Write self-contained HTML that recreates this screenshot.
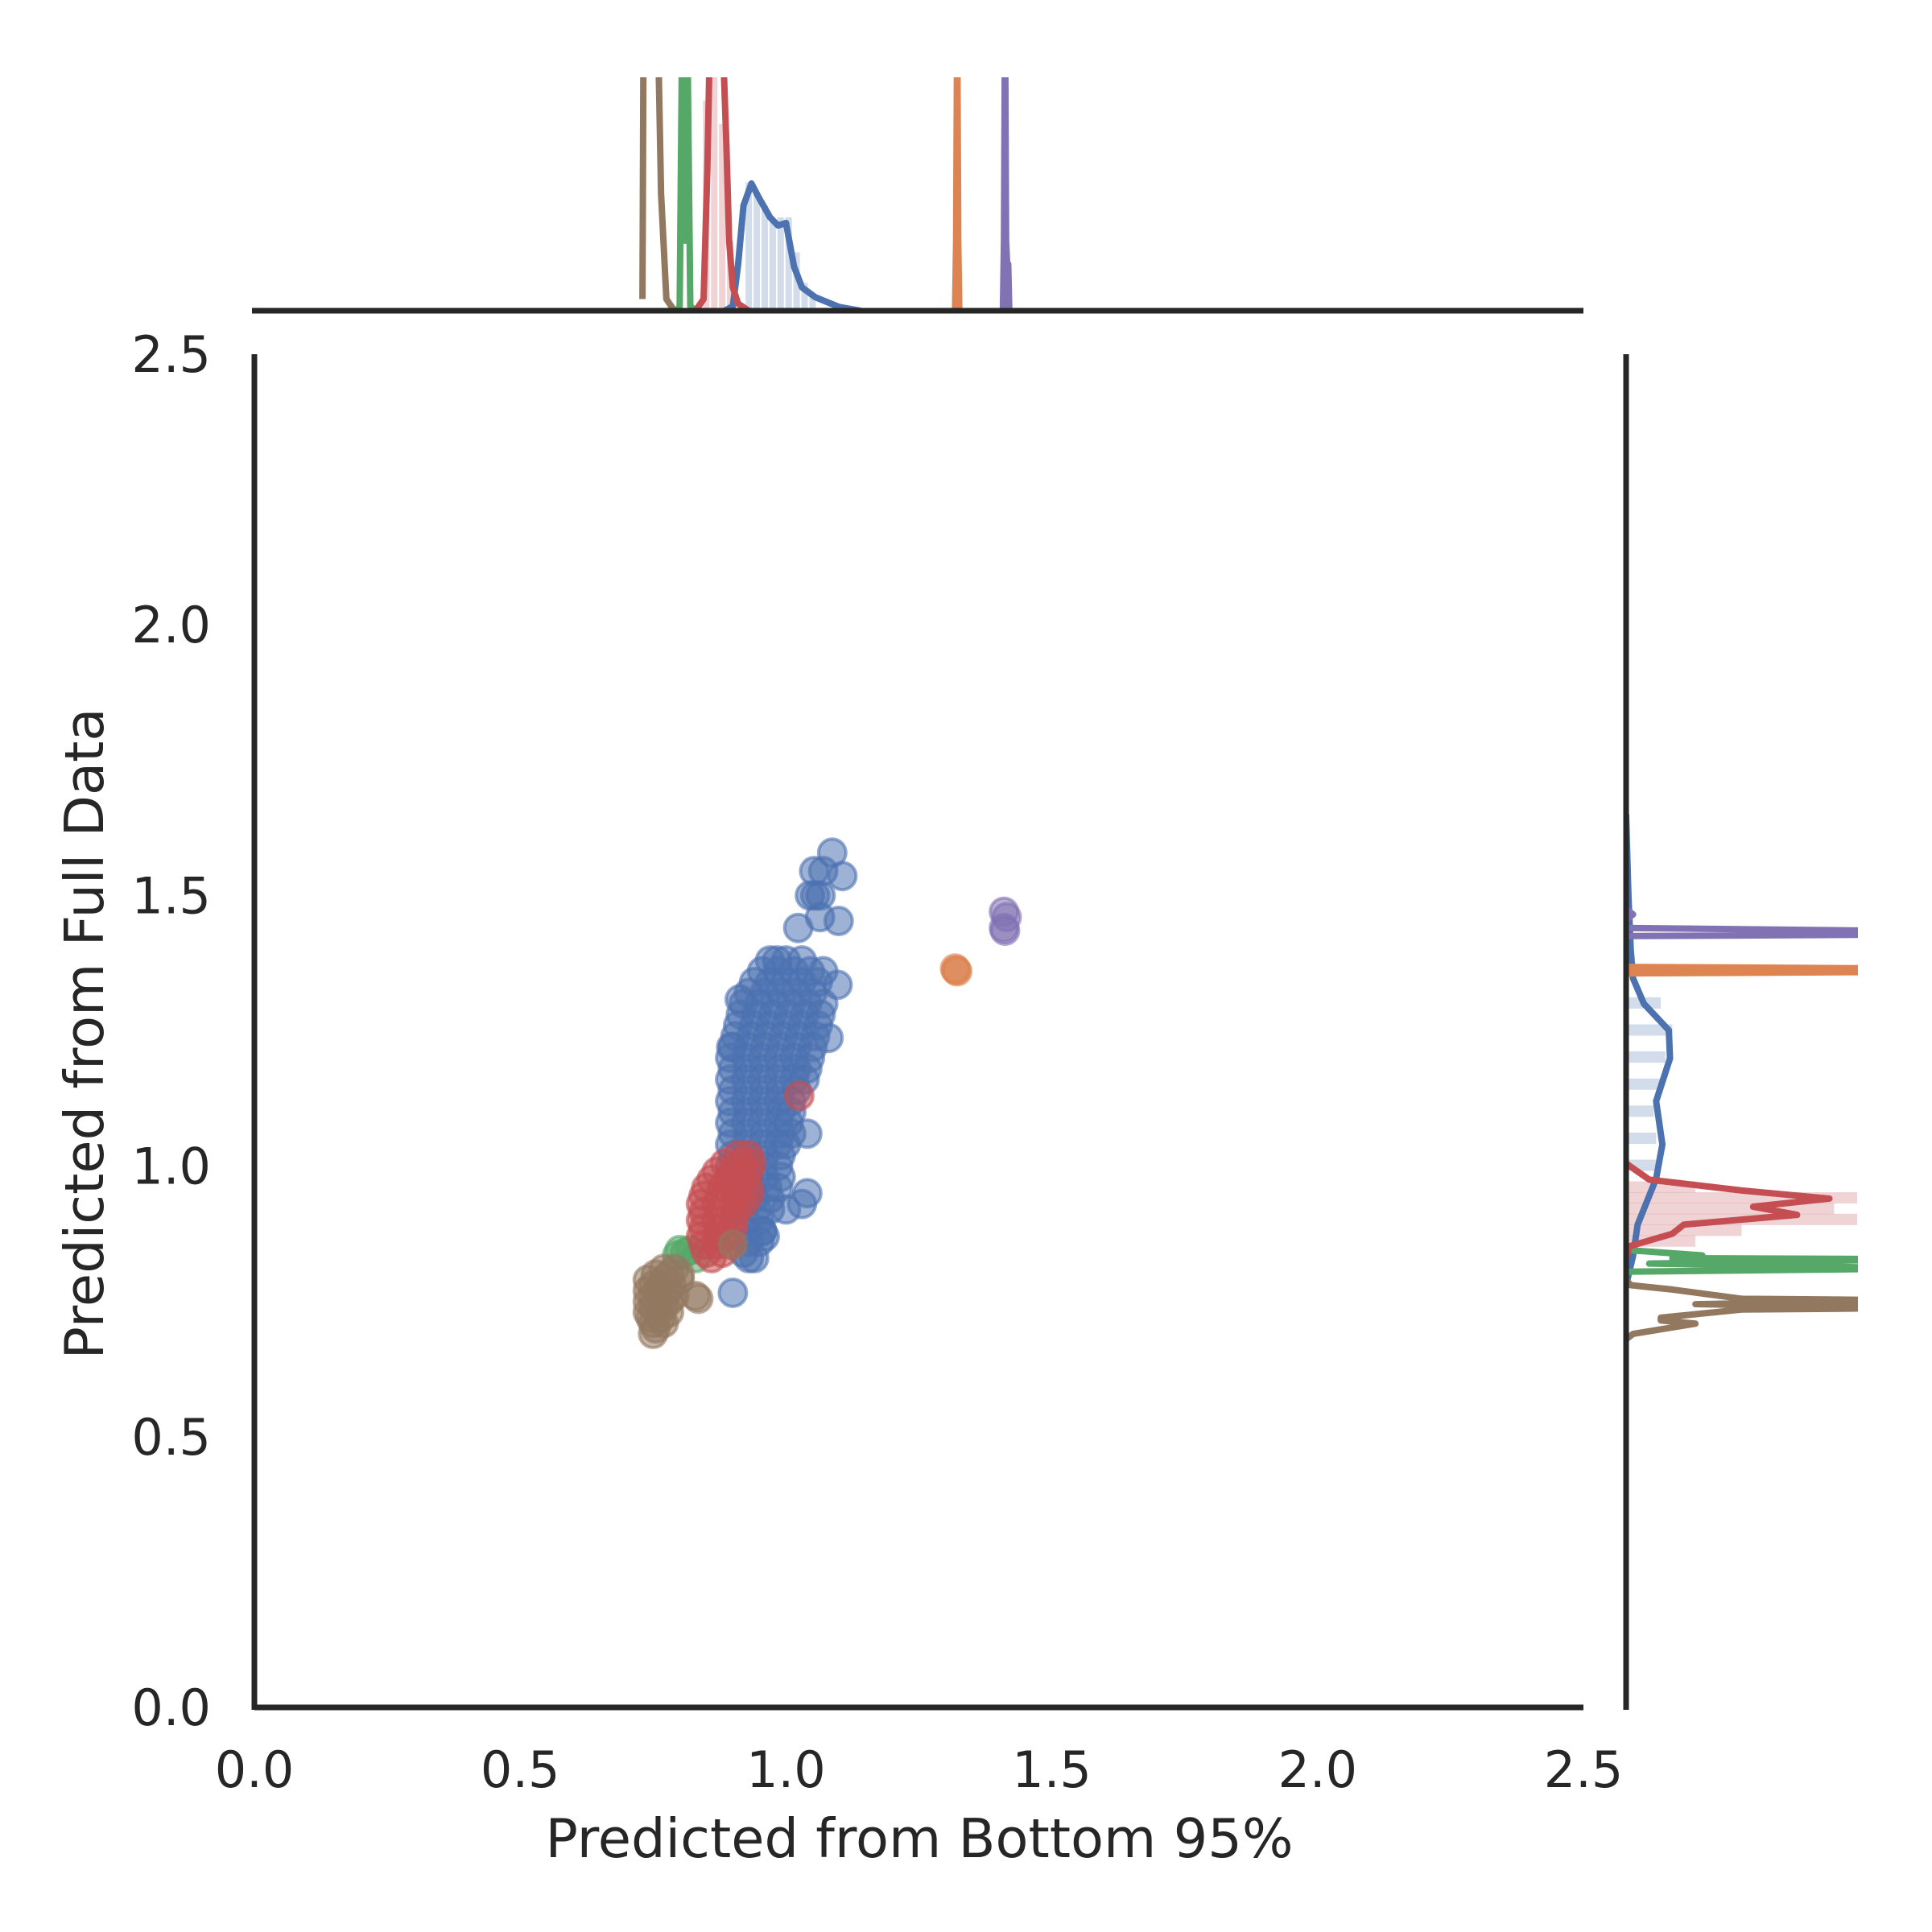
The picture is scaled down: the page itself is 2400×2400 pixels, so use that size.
<!DOCTYPE html>
<html><head><meta charset="utf-8">
<style>
html,body{margin:0;padding:0;background:#fff;}
svg{display:block;}
text{font-family:"DejaVu Sans","Liberation Sans",sans-serif;fill:#262626;}
</style></head>
<body>
<svg id="chart" width="2400" height="2400" viewBox="0 0 2400 2400" xmlns="http://www.w3.org/2000/svg">
<defs>
<clipPath id="topclip"><rect x="316" y="96" width="1651" height="292"/></clipPath>
<clipPath id="rightclip"><rect x="2018" y="440" width="290" height="1685"/></clipPath>
</defs>
<g id="marks"></g>
<g id="axes">
<line x1="316" y1="2121" x2="1967" y2="2121" stroke="#262626" stroke-width="7"/>
<line x1="316" y1="440" x2="316" y2="2124" stroke="#262626" stroke-width="7"/>
<line x1="313" y1="386" x2="1967" y2="386" stroke="#262626" stroke-width="7"/>
<line x1="2020" y1="440" x2="2020" y2="2124" stroke="#262626" stroke-width="7"/>
</g>
<g id="ticks"></g>
<text x="1142" y="2307" font-size="67" text-anchor="middle">Predicted from Bottom 95%</text>
<text x="0" y="0" font-size="67" text-anchor="middle" transform="translate(128,1284) rotate(-90)">Predicted from Full Data</text>
</svg>
<script>
// ---- data ----
const xTicks = [0.0, 0.5, 1.0, 1.5, 2.0, 2.5];
const yTicks = [0.0, 0.5, 1.0, 1.5, 2.0, 2.5];
const tickLabels = ["0.0","0.5","1.0","1.5","2.0","2.5"];
const groups = ["blue","orange","green","red","purple","brown"];
const colors = {blue:"#4C72B0",orange:"#DD8452",green:"#55A868",red:"#C44E52",purple:"#8172B3",brown:"#937860"};

const blueX = [0.97,1.00,1.03, 0.94,0.97,1.00,1.03,1.06, 0.92,0.95,0.98,1.01,1.04,1.07, 0.91,0.94,0.97,1.00,1.03,1.06,
 0.90,0.93,0.96,0.99,1.02,1.05, 0.90,0.93,0.96,0.99,1.02,1.04, 0.90,0.93,0.96,0.99,1.02, 0.90,0.93,0.96,0.99,1.01,
 0.90,0.93,0.96,0.99,1.01, 0.90,0.93,0.96,0.99, 0.90,0.93,0.96,0.99, 0.91,0.94,0.97, 0.92,0.95, 0.93,
 0.955,0.985,1.015,1.045, 0.93,0.96,0.99,1.02,1.05, 0.915,0.945,0.975,1.005,1.035,1.065, 0.905,0.935,0.965,0.995,1.025,1.055,
 0.895,0.925,0.955,0.985,1.015,1.045, 0.895,0.925,0.955,0.985,1.015,1.035, 0.895,0.925,0.955,0.985,1.01,
 0.895,0.925,0.955,0.985,1.005, 0.895,0.925,0.955,0.985,1.0, 0.895,0.925,0.955,0.985, 0.905,0.935,0.965,0.985,
 0.915,0.945,0.97, 0.925,0.955,
 1.087,1.106,1.053,1.07,1.045,1.055,1.065,1.099,1.064,1.023,0.983,1.04,1.04,0.955,0.94,0.90,0.92,0.93,0.96,1.03,0.913,0.897,1.07,1.097,1.08,0.95,1.0];
const blueY = [1.38,1.38,1.38, 1.34,1.34,1.34,1.34,1.34, 1.30,1.30,1.30,1.30,1.30,1.30, 1.26,1.26,1.26,1.26,1.26,1.26,
 1.22,1.22,1.22,1.22,1.22,1.22, 1.18,1.18,1.18,1.18,1.18,1.18, 1.14,1.14,1.14,1.14,1.14, 1.10,1.10,1.10,1.10,1.10,
 1.06,1.06,1.06,1.06,1.06, 1.02,1.02,1.02,1.02, 0.98,0.98,0.98,0.98, 0.94,0.94,0.94, 0.90,0.90, 0.86,
 1.36,1.36,1.36,1.36, 1.32,1.32,1.32,1.32,1.32, 1.28,1.28,1.28,1.28,1.28,1.28, 1.24,1.24,1.24,1.24,1.24,1.24,
 1.20,1.20,1.20,1.20,1.20,1.20, 1.16,1.16,1.16,1.16,1.16,1.16, 1.12,1.12,1.12,1.12,1.12,
 1.08,1.08,1.08,1.08,1.08, 1.04,1.04,1.04,1.04,1.04, 1.00,1.00,1.00,1.00, 0.96,0.96,0.96,0.96,
 0.92,0.92,0.92, 0.88,0.88,
 1.579,1.536,1.545,1.545,1.50,1.50,1.50,1.453,1.46,1.44,1.38,0.95,1.06,0.88,0.83,0.766,0.84,0.83,0.87,0.93,1.308,1.22,1.36,1.335,1.237,0.86,0.92];
const orangeX = [1.318,1.322,1.320];
const orangeY = [1.365,1.360,1.362];
const greenX = [0.80,0.82,0.83,0.81,0.795];
const greenY = [0.845,0.845,0.83,0.84,0.835];
const redX = [0.91,0.93, 0.87,0.90,0.93, 0.85,0.88,0.91,0.93, 0.84,0.87,0.90,0.92, 0.84,0.87,0.90, 0.84,0.87,0.89, 0.85,0.88,
 0.885,0.915,0.935, 0.86,0.89,0.92, 0.845,0.875,0.905,0.93, 0.845,0.875,0.905, 0.845,0.875,0.90, 0.845,0.87,0.895, 0.86,
 1.025];
const redY = [1.02,1.02, 0.99,0.99,0.99, 0.96,0.96,0.96,0.96, 0.93,0.93,0.93,0.93, 0.90,0.90,0.90, 0.87,0.87,0.87, 0.84,0.84,
 1.005,1.005,1.005, 0.975,0.975,0.975, 0.945,0.945,0.945,0.945, 0.915,0.915,0.915, 0.885,0.885,0.885, 0.855,0.855,0.855, 0.83,
 1.13];
const purpleX = [1.41,1.415,1.41,1.412];
const purpleY = [1.47,1.46,1.44,1.435];
const brownX = [0.77,0.79, 0.74,0.77,0.80, 0.74,0.76,0.78, 0.74,0.76,0.78, 0.74,0.76,0.78, 0.75,0.77, 0.75,
 0.755,0.78, 0.75,0.765,0.785, 0.75,0.77,0.79, 0.75,0.77, 0.745,0.765, 0.755,
 0.835,0.83,0.80,0.90];
const brownY = [0.81,0.81, 0.79,0.79,0.79, 0.77,0.77,0.77, 0.75,0.75,0.75, 0.73,0.73,0.73, 0.71,0.71, 0.69,
 0.80,0.80, 0.78,0.78,0.78, 0.76,0.76,0.76, 0.74,0.74, 0.72,0.72, 0.70,
 0.755,0.76,0.80,0.855];

// top marginal KDEs (value, relative density)
const topBlueX = [0.885,0.90,0.91,0.92,0.935,0.95,0.97,0.985,1.0,1.015,1.03,1.055,1.10,1.14];
const topBlueD = [0,0.02,0.2,0.45,0.545,0.48,0.40,0.365,0.376,0.19,0.10,0.058,0.016,0];
const topRedX = [0.83,0.845,0.852,0.858,0.87,0.882,0.888,0.893,0.90,0.91,0.93];
const topRedD = [0,0.05,0.6,1.3,1.3,1.1,0.7,0.3,0.1,0.03,0];
const topBrownX = [0.73,0.732,0.735,0.75,0.76,0.765,0.775,0.79];
const topBrownD = [0.05,1.2,1.2,1.2,1.1,0.5,0.05,0];
const topGreenX = [0.795,0.80,0.805,0.81,0.814,0.82,0.83];
const topGreenD = [0,0.02,1.3,0.3,1.3,0.02,0];
const topOrangeX = [1.318,1.320,1.322,1.324,1.326];
const topOrangeD = [0,0.3,1.3,0.3,0];
const topPurpleX = [1.408,1.410,1.412,1.414,1.416,1.418,1.420];
const topPurpleD = [0,0.3,1.3,0.3,0.2,0.2,0];
const topHistBlueX = [0.93,0.945,0.96,0.975,0.99,1.005,1.02,1.035,1.05];
const topHistBlueD = [0.55,0.5,0.45,0.38,0.4,0.4,0.25,0.12,0.06];
const topHistRedX = [0.85,0.865,0.88,0.895];
const topHistRedD = [0.9,1.0,0.8,0.3];

// right marginal KDEs (value, relative density)
const rightBlueY = [1.65,1.5,1.4,1.347,1.30,1.251,1.199,1.12,1.04,0.977,0.892,0.834,0.78];
const rightBlueD = [0,0.01,0.02,0.03,0.077,0.185,0.19,0.13,0.157,0.13,0.05,0.03,0];
const rightRedY = [1.005,0.975,0.955,0.94,0.925,0.91,0.892,0.875,0.852,0.83];
const rightRedD = [0,0.1,0.5,0.88,0.55,0.74,0.25,0.2,0.015,0];
const rightBrownY = [0.79,0.78,0.772,0.755,0.752,0.745,0.738,0.735,0.72,0.715,0.709,0.69,0.68];
const rightBrownD = [0,0.02,0.2,0.5,1.3,0.3,1.3,0.5,0.15,0.15,0.30,0.03,0];
const rightGreenY = [0.845,0.835,0.83,0.828,0.82,0.811,0.805];
const rightGreenD = [0,0.33,0.2,1.3,0.1,1.3,0];
const rightOrangeY = [1.368,1.365,1.362,1.359,1.356];
const rightOrangeD = [0,1.3,1.3,1.3,0];
const rightPurpleY = [1.475,1.465,1.455,1.44,1.434,1.431,1.428,1.425];
const rightPurpleD = [0,0.03,0,0,1.3,1.3,1.3,0];
const rightHistBlueY = [1.30,1.25,1.20,1.15,1.10,1.05,1.00];
const rightHistBlueD = [0.15,0.2,0.17,0.15,0.12,0.13,0.14];
const rightHistRedY = [0.96,0.94,0.92,0.90,0.88,0.86];
const rightHistRedD = [0.3,1.0,0.9,1.0,0.5,0.3];

// ---- scales ----
const X0=316, X1=1967, Y0=2121, Y1=440;
function sx(v){ return X0 + v/2.5*(X1-X0); }
function sy(v){ return Y0 - v/2.5*(Y0-Y1); }
const TOPBASE=386, TOPH=290;
function topY(d){ return TOPBASE - d*TOPH; }
const RBASE=2020, RW=287;
function rightX(d){ return RBASE + d*RW; }

const NS="http://www.w3.org/2000/svg";
const marks=document.getElementById('marks');
const ticks=document.getElementById('ticks');

xTicks.forEach((v,i)=>{
  const t=document.createElementNS(NS,'text');
  
  
  t.setAttribute('x',sx(v)); t.setAttribute('y',2220);
  t.setAttribute('font-size','62'); t.setAttribute('text-anchor','middle');
  t.textContent=tickLabels[i]; ticks.appendChild(t);
});
yTicks.forEach((v,i)=>{
  const t=document.createElementNS(NS,'text');
  
  
  t.setAttribute('x',262); t.setAttribute('y',sy(v)+22);
  t.setAttribute('font-size','62'); t.setAttribute('text-anchor','end');
  t.textContent=tickLabels[i]; ticks.appendChild(t);
});

// top marginal
const topG=document.createElementNS(NS,'g');
topG.setAttribute('clip-path','url(#topclip)');


marks.appendChild(topG);
function topHist(xs,ds,color,name){
  xs.forEach((x,i)=>{
    const r=document.createElementNS(NS,'rect');
    
    
    r.setAttribute('x',sx(x)-4); r.setAttribute('width',8);
    r.setAttribute('y',topY(ds[i])); r.setAttribute('height',TOPBASE-topY(ds[i]));
    r.setAttribute('fill',color); r.setAttribute('fill-opacity','0.25');
    topG.appendChild(r);
  });
}
topHist(topHistBlueX,topHistBlueD,colors.blue,'top-hist-bar-blue');
topHist(topHistRedX,topHistRedD,colors.red,'top-hist-bar-red');
function topLine(xs,ds,color,name){
  const p=document.createElementNS(NS,'polyline');
  
  
  p.setAttribute('points',xs.map((x,i)=>sx(x)+','+topY(ds[i])).join(' '));
  p.setAttribute('fill','none'); p.setAttribute('stroke',color); p.setAttribute('stroke-width','8');
  p.setAttribute('stroke-linejoin','round');
  topG.appendChild(p);
}
topLine(topBlueX,topBlueD,colors.blue,'top-kde-blue');
topLine(topOrangeX,topOrangeD,colors.orange,'top-kde-orange');
topLine(topGreenX,topGreenD,colors.green,'top-kde-green');
topLine(topRedX,topRedD,colors.red,'top-kde-red');
topLine(topPurpleX,topPurpleD,colors.purple,'top-kde-purple');
topLine(topBrownX,topBrownD,colors.brown,'top-kde-brown');

// right marginal
const rG=document.createElementNS(NS,'g');
rG.setAttribute('clip-path','url(#rightclip)');


marks.appendChild(rG);
function rightHist(ys,ds,color,name){
  ys.forEach((y,i)=>{
    const r=document.createElementNS(NS,'rect');
    
    
    r.setAttribute('y',sy(y)-8); r.setAttribute('height',14);
    r.setAttribute('x',RBASE); r.setAttribute('width',rightX(ds[i])-RBASE);
    r.setAttribute('fill',color); r.setAttribute('fill-opacity','0.25');
    rG.appendChild(r);
  });
}
rightHist(rightHistBlueY,rightHistBlueD,colors.blue,'right-hist-bar-blue');
rightHist(rightHistRedY,rightHistRedD,colors.red,'right-hist-bar-red');
function rightLine(ys,ds,color,name){
  const p=document.createElementNS(NS,'polyline');
  
  
  p.setAttribute('points',ys.map((y,i)=>rightX(ds[i])+','+sy(y)).join(' '));
  p.setAttribute('fill','none'); p.setAttribute('stroke',color); p.setAttribute('stroke-width','8');
  p.setAttribute('stroke-linejoin','round');
  rG.appendChild(p);
}
rightLine(rightBlueY,rightBlueD,colors.blue,'right-kde-blue');
rightLine(rightOrangeY,rightOrangeD,colors.orange,'right-kde-orange');
rightLine(rightGreenY,rightGreenD,colors.green,'right-kde-green');
rightLine(rightRedY,rightRedD,colors.red,'right-kde-red');
rightLine(rightPurpleY,rightPurpleD,colors.purple,'right-kde-purple');
rightLine(rightBrownY,rightBrownD,colors.brown,'right-kde-brown');

// scatter
const seriesX={blue:blueX,orange:orangeX,green:greenX,red:redX,purple:purpleX,brown:brownX};
const seriesY={blue:blueY,orange:orangeY,green:greenY,red:redY,purple:purpleY,brown:brownY};
groups.forEach(g=>{
  const gg=document.createElementNS(NS,'g');
  
  
  marks.appendChild(gg);
  seriesX[g].forEach((x,i)=>{
    const c=document.createElementNS(NS,'circle');
    
    
    c.setAttribute('cx',sx(x)); c.setAttribute('cy',sy(seriesY[g][i])); c.setAttribute('r',17);
    c.setAttribute('fill',colors[g]); c.setAttribute('fill-opacity','0.55');
    c.setAttribute('stroke',colors[g]); c.setAttribute('stroke-opacity','0.6'); c.setAttribute('stroke-width','4');
    gg.appendChild(c);
  });
});
</script>
</body></html>
